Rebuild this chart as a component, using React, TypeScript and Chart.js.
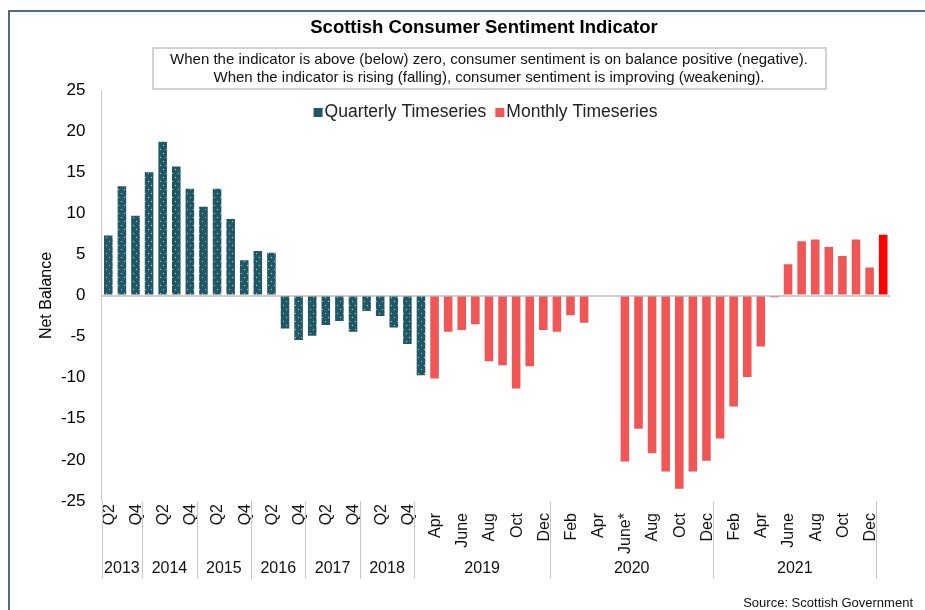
import React, { useEffect, useRef } from 'react';
import { Chart, registerables } from 'chart.js';

Chart.register(...registerables);

const FONT = '"Liberation Sans", Arial, Helvetica, sans-serif';

const TITLE = 'Scottish Consumer Sentiment Indicator';
const NOTE_LINES = [
  'When the indicator is above (below) zero, consumer sentiment is on balance positive (negative).',
  'When the indicator is rising (falling), consumer sentiment is improving (weakening).',
];
const SOURCE = 'Source: Scottish Government';
const Y_TITLE = 'Net Balance';

// Quarterly series: 2013 Q2 .. 2019 Q1
const quarterLabels = [
  'Q2', 'Q3', 'Q4',
  'Q1', 'Q2', 'Q3', 'Q4',
  'Q1', 'Q2', 'Q3', 'Q4',
  'Q1', 'Q2', 'Q3', 'Q4',
  'Q1', 'Q2', 'Q3', 'Q4',
  'Q1', 'Q2', 'Q3', 'Q4',
  'Q1',
];
const quarterlyValues = [
  7.3, 13.3, 9.7,
  15.0, 18.7, 15.7, 13.0,
  10.8, 13.0, 9.3, 4.3,
  5.4, 5.2, -4.0, -5.4,
  -4.9, -3.6, -3.1, -4.4,
  -1.9, -2.5, -3.9, -5.9,
  -9.7,
];

// Monthly series: Apr 2019 .. Jan 2022 (no survey Apr/May 2020)
const monthLabels = [
  'Apr', 'May', 'June', 'July', 'Aug', 'Sep', 'Oct', 'Nov', 'Dec',
  'Jan', 'Feb', 'Mar', 'Apr', 'May', 'June*', 'July', 'Aug', 'Sep', 'Oct', 'Nov', 'Dec',
  'Jan', 'Feb', 'Mar', 'Apr', 'May', 'June', 'July', 'Aug', 'Sep', 'Oct', 'Nov', 'Dec',
  'Jan',
];
const monthlyValues: (number | null)[] = [
  -10.1, -4.4, -4.2, -3.5, -8.0, -8.5, -11.3, -8.6, -4.2,
  -4.4, -2.4, -3.3, null, null, -20.2, -16.2, -19.2, -21.4, -23.5, -21.4, -20.1,
  -17.4, -13.5, -9.9, -6.2, -0.2, 3.8, 6.6, 6.8, 5.9, 4.8, 6.8, 3.4,
  7.4,
];

const yearLabels = ['2013', '2014', '2015', '2016', '2017', '2018', '2019', '2020', '2021', ''];
const yearSizes = [3, 4, 4, 4, 4, 4, 10, 12, 12, 1];

const Y_MIN = -25;
const Y_MAX = 25;
const Y_STEP = 5;

const SERIES_NAMES = ['Quarterly Timeseries', 'Monthly Timeseries'];
const TEAL = '#215866';
const RED = '#F05656';
const BRIGHT_RED = '#FF0000';

const categories = [...quarterLabels, ...monthLabels];
const nQ = quarterLabels.length;
const quarterlySeries = categories.map((_, i) => (i < nQ ? quarterlyValues[i] : null));
const monthlySeries = categories.map((_, i) => (i >= nQ ? monthlyValues[i - nQ] : null));
const latestIndex = categories.length - 1;

function makeDotPattern(): CanvasPattern | string {
  const c = document.createElement('canvas');
  c.width = 6;
  c.height = 8;
  const g = c.getContext('2d');
  if (!g) return TEAL;
  g.fillStyle = TEAL;
  g.fillRect(0, 0, 6, 8);
  g.fillStyle = 'rgba(215,228,232,0.85)';
  g.fillRect(1, 1, 1, 1);
  g.fillRect(4, 5, 1, 1);
  const p = g.createPattern(c, 'repeat');
  return p || TEAL;
}

const decorPlugin = {
  id: 'decor',
  beforeDraw(chart: any) {
    const { ctx, width, height } = chart;
    ctx.save();
    ctx.fillStyle = '#ffffff';
    ctx.fillRect(0, 0, width, height);
    ctx.restore();
  },
  afterDraw(chart: any) {
    const { ctx, chartArea: area } = chart;
    const xs = chart.scales.x;
    ctx.save();

    // outer frame (top + left)
    ctx.strokeStyle = '#4F6E82';
    ctx.lineWidth = 2;
    ctx.beginPath();
    ctx.moveTo(8, 11);
    ctx.lineTo(925, 11);
    ctx.moveTo(9, 10);
    ctx.lineTo(9, 610);
    ctx.stroke();

    // title
    ctx.fillStyle = '#000';
    ctx.textAlign = 'center';
    ctx.textBaseline = 'middle';
    ctx.font = `bold 18.5px ${FONT}`;
    ctx.fillText(TITLE, 484, 28);

    // note box
    ctx.strokeStyle = '#d2d2d2';
    ctx.lineWidth = 2;
    ctx.strokeRect(153, 48, 673, 41);
    ctx.font = `15px ${FONT}`;
    ctx.fillStyle = '#111';
    ctx.fillText(NOTE_LINES[0], 489, 60, 644);
    ctx.fillText(NOTE_LINES[1], 489, 78, 608);

    // legend
    ctx.font = `17.5px ${FONT}`;
    ctx.textAlign = 'left';
    ctx.textBaseline = 'alphabetic';
    const box = 9;
    const gapIn = 2;
    const gapOut = 9;
    const widths = SERIES_NAMES.map((t) => box + gapIn + ctx.measureText(t).width);
    const total = widths[0] + gapOut + widths[1];
    let lx = 485.5 - total / 2;
    const baseY = 117;
    const legendColors = [TEAL, RED];
    SERIES_NAMES.forEach((t, k) => {
      ctx.fillStyle = legendColors[k];
      ctx.fillRect(lx, baseY - box, box, box);
      ctx.fillStyle = '#222';
      ctx.fillText(t, lx + box + gapIn, baseY);
      lx += widths[k] + gapOut;
    });

    // x category labels (every other)
    ctx.fillStyle = '#111';
    ctx.font = `16px ${FONT}`;
    categories.forEach((lab, i) => {
      if (i % 2 !== 0) return;
      const px = xs.getPixelForValue(i);
      const top = area.bottom + (i < nQ ? 3 : 12);
      ctx.save();
      ctx.translate(px, top);
      ctx.rotate(-Math.PI / 2);
      ctx.textAlign = 'right';
      ctx.textBaseline = 'middle';
      ctx.fillText(lab, 0, 1);
      ctx.restore();
    });

    // year groups: separators + labels
    const step = xs.getPixelForValue(1) - xs.getPixelForValue(0);
    ctx.strokeStyle = '#c8c8c8';
    ctx.lineWidth = 1;
    ctx.textAlign = 'center';
    ctx.textBaseline = 'middle';
    ctx.font = `16px ${FONT}`;
    let start = 0;
    yearLabels.forEach((yl, g) => {
      const end = start + yearSizes[g] - 1;
      const sx = Math.round(xs.getPixelForValue(start) - step / 2) + 0.5;
      ctx.beginPath();
      ctx.moveTo(sx, area.bottom);
      ctx.lineTo(sx, area.bottom + 78);
      ctx.stroke();
      if (yl) {
        const cx = (xs.getPixelForValue(start) + xs.getPixelForValue(end)) / 2;
        ctx.fillText(yl, cx, area.bottom + 68);
      }
      start = end + 1;
    });

    // source
    ctx.font = `13px ${FONT}`;
    ctx.textAlign = 'right';
    ctx.fillStyle = '#111';
    ctx.fillText(SOURCE, 913, 603);

    ctx.restore();
  },
};

export default function App() {
  const ref = useRef<HTMLCanvasElement | null>(null);

  useEffect(() => {
    if (!ref.current) return;
    Chart.defaults.font.family = FONT;
    const pattern = makeDotPattern();
    const chart = new Chart(ref.current, {
      type: 'bar',
      data: {
        labels: categories,
        datasets: [
          {
            label: SERIES_NAMES[0],
            data: quarterlySeries,
            backgroundColor: pattern as any,
            grouped: false,
            barPercentage: 0.63,
            categoryPercentage: 1,
          } as any,
          {
            label: SERIES_NAMES[1],
            data: monthlySeries,
            backgroundColor: (c: any) => (c.dataIndex === latestIndex ? BRIGHT_RED : RED),
            grouped: false,
            barPercentage: 0.63,
            categoryPercentage: 1,
          } as any,
        ],
      },
      options: {
        responsive: false,
        animation: false,
        devicePixelRatio: 1,
        layout: { padding: { top: 90, right: 35, bottom: 109, left: 0 } },
        plugins: {
          legend: { display: false },
          title: { display: false },
          tooltip: { enabled: false },
        },
        scales: {
          x: {
            display: false,
            offset: true,
            grid: { display: false },
          },
          y: {
            min: Y_MIN,
            max: Y_MAX,
            z: 1,
            afterFit: (s: any) => {
              s.width = 101.5;
            },
            ticks: {
              stepSize: Y_STEP,
              padding: 16,
              color: '#000',
              font: { size: 17 },
            },
            grid: {
              drawTicks: false,
              color: (c: any) => (c.tick && c.tick.value === 0 ? '#cfcfcf' : 'rgba(0,0,0,0)'),
              lineWidth: (c: any) => (c.tick && c.tick.value === 0 ? 2 : 0),
            },
            border: { display: true, color: '#c8c8c8', width: 1 },
            title: {
              display: true,
              text: Y_TITLE,
              color: '#000',
              font: { size: 16 },
              padding: { top: 37, bottom: 0 },
            },
          },
        },
      },
      plugins: [decorPlugin],
    });
    return () => chart.destroy();
  }, []);

  return (
    <div style={{ position: 'absolute', left: 0, top: 0, width: 925, height: 610, background: '#fff' }}>
      <canvas ref={ref} width={925} height={610} />
    </div>
  );
}
